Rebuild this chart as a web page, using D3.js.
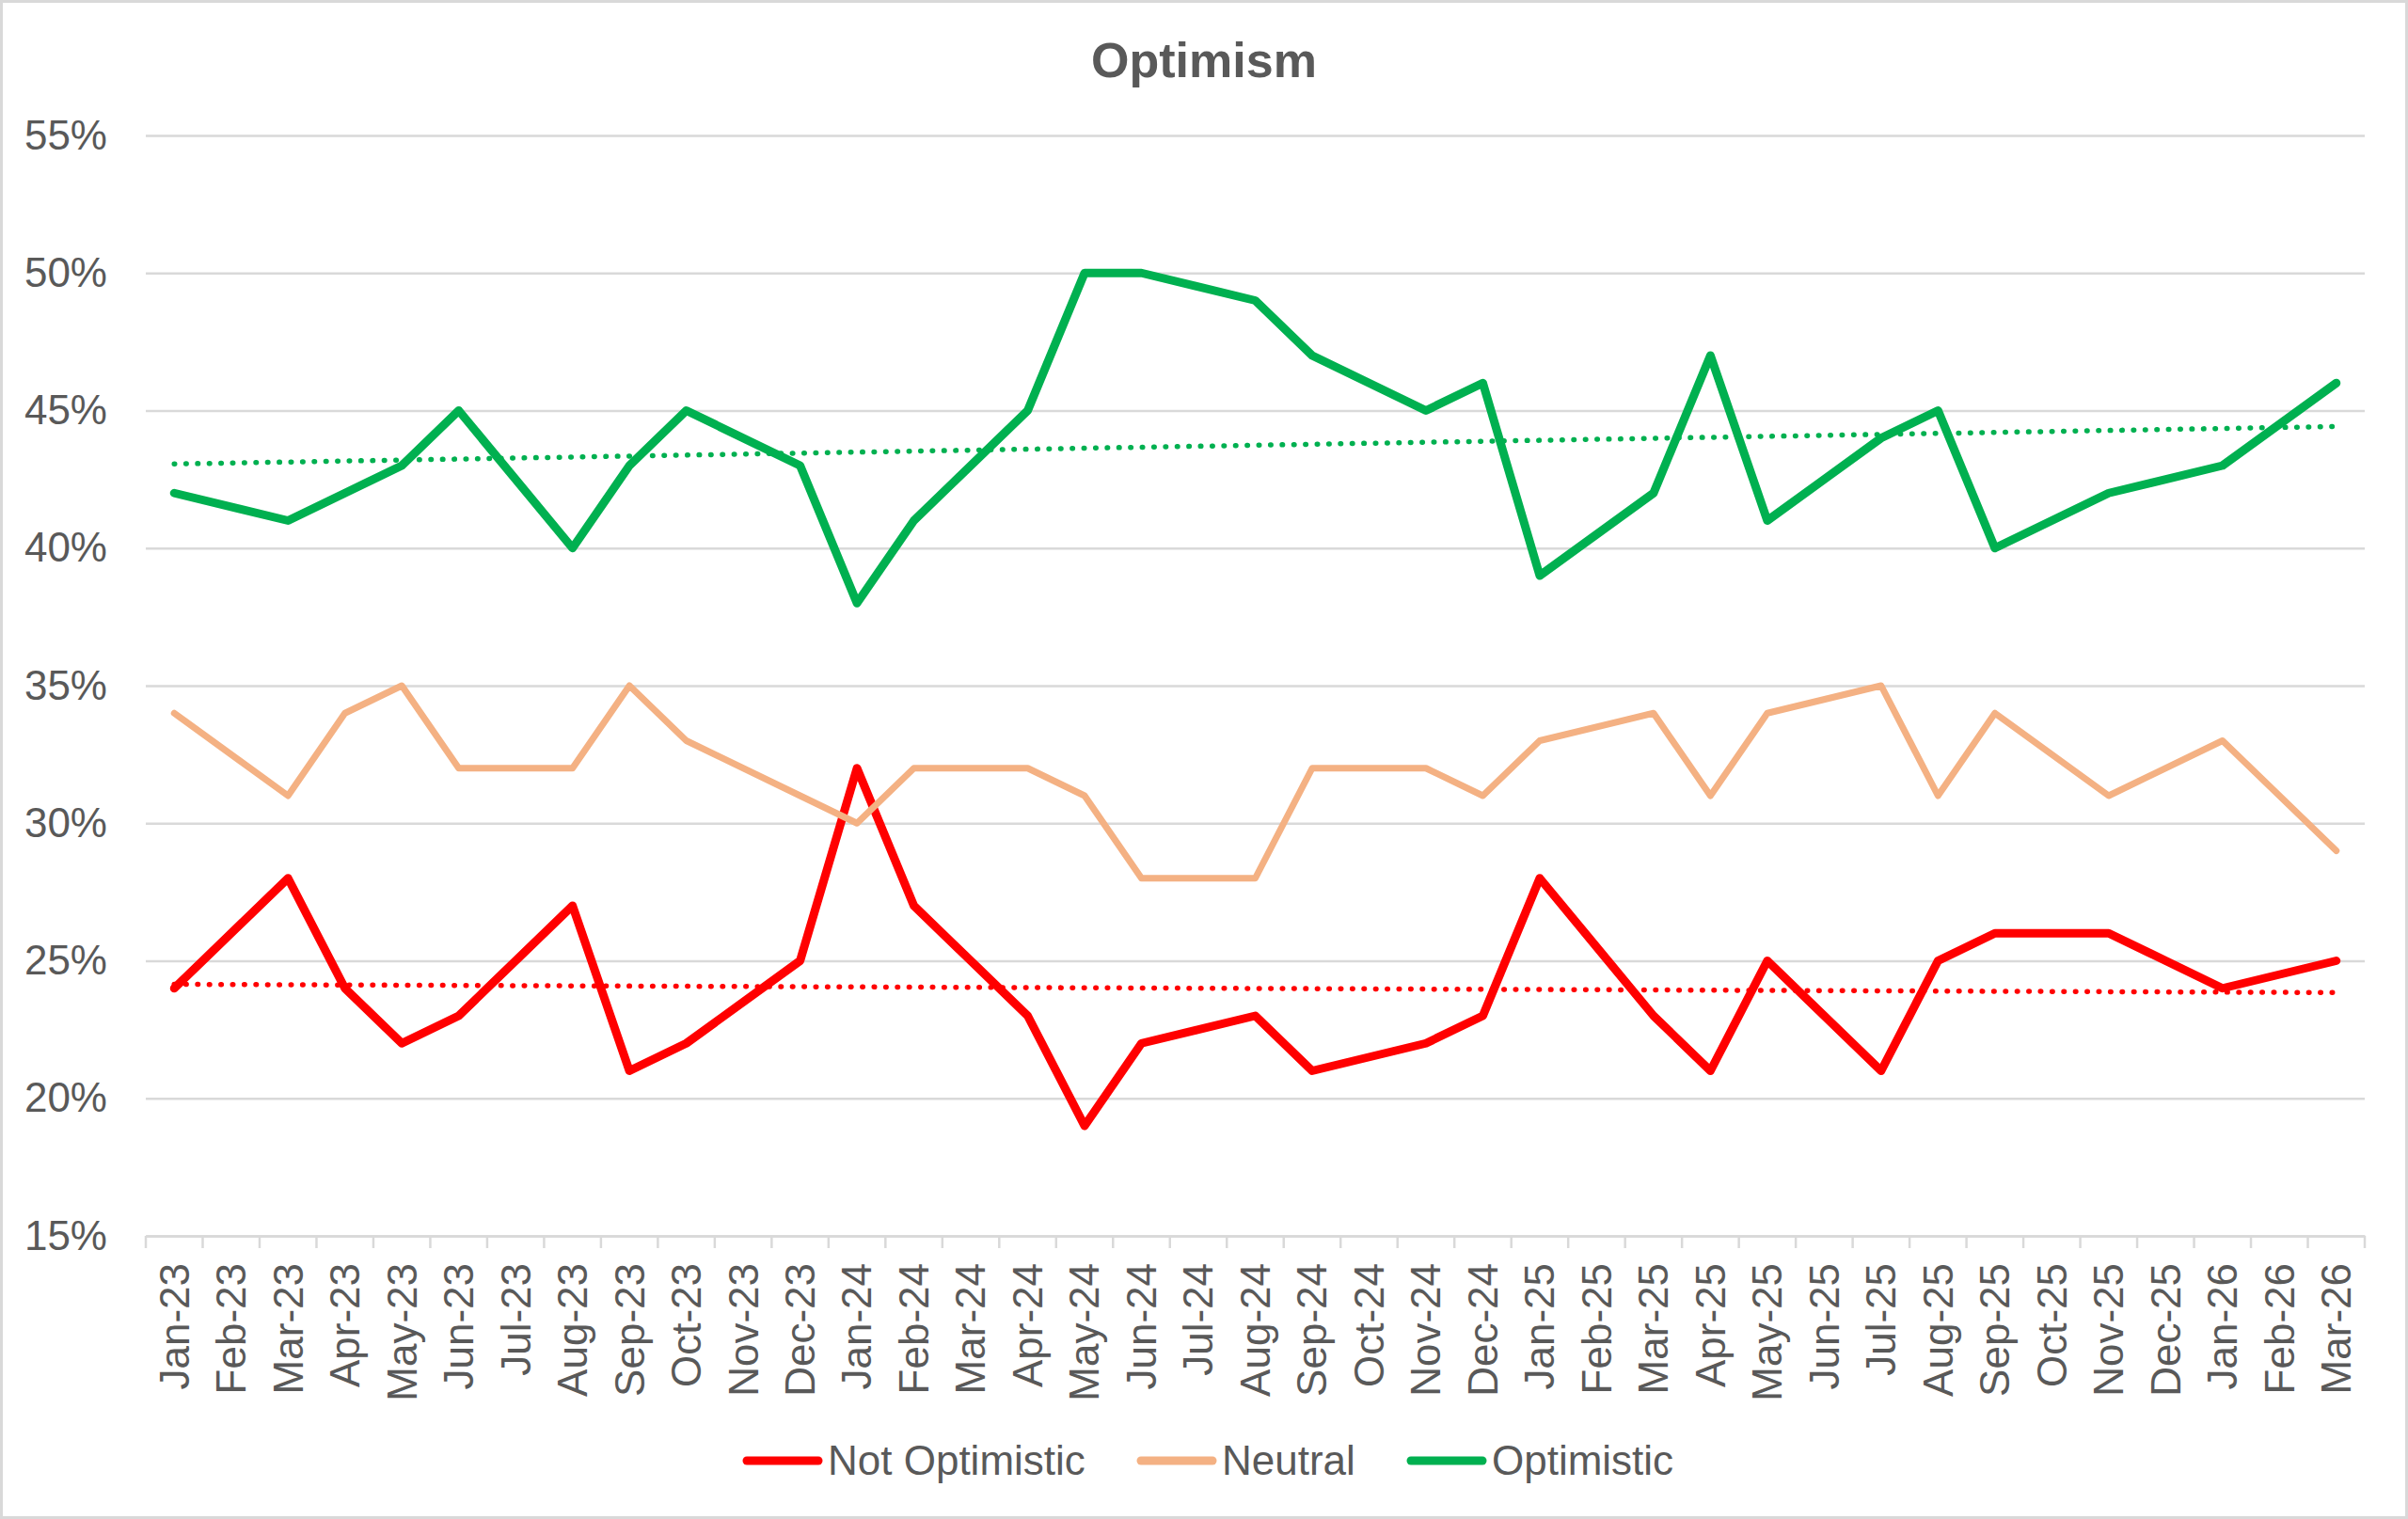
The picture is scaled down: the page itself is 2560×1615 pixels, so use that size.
<!DOCTYPE html>
<html>
<head>
<meta charset="utf-8">
<script src="https://cdn.jsdelivr.net/npm/d3@7"></script>
<style>
  body { margin: 0; background: #fff; }
  text { font-family: "Liberation Sans", Arial, sans-serif; fill: #595959; }
</style>
</head>
<body>
<svg id="chart" width="2560" height="1615"></svg>
<script>
// monthly survey, blanks = no survey that month
var months = [
  "Jan-23","Feb-23","Mar-23","Apr-23","May-23","Jun-23","Jul-23","Aug-23","Sep-23","Oct-23","Nov-23","Dec-23",
  "Jan-24","Feb-24","Mar-24","Apr-24","May-24","Jun-24","Jul-24","Aug-24","Sep-24","Oct-24","Nov-24","Dec-24",
  "Jan-25","Feb-25","Mar-25","Apr-25","May-25","Jun-25","Jul-25","Aug-25","Sep-25","Oct-25","Nov-25","Dec-25",
  "Jan-26","Feb-26","Mar-26"
];

var notOptimistic = [
  24, null, 28, 24, 22, 23, null, 27, 21, 22, null, 25,
  32, 27, null, 23, 19, 22, null, 23, 21, null, 22, 23,
  28, null, 23, 21, 25, null, 21, 25, 26, null, 26, null,
  24, null, 25
];
var neutral = [
  34, null, 31, 34, 35, 32, null, 32, 35, 33, null, 31,
  30, 32, null, 32, 31, 28, null, 28, 32, null, 32, 31,
  33, null, 34, 31, 34, null, 35, 31, 34, null, 31, null,
  33, null, 29
];
var optimistic = [
  42, null, 41, 42, 43, 45, null, 40, 43, 45, null, 43,
  38, 41, null, 45, 50, 50, null, 49, 47, null, 45, 46,
  39, null, 42, 47, 41, null, 44, 45, 40, null, 42, null,
  43, null, 46
];

var yTicks = [0.15, 0.20, 0.25, 0.30, 0.35, 0.40, 0.45, 0.50, 0.55];

var series = [
  { name: "Not Optimistic", values: notOptimistic, color: "#FF0000", width: 9, trend: true },
  { name: "Neutral",        values: neutral,       color: "#F4B183", width: 7, trend: false },
  { name: "Optimistic",     values: optimistic,    color: "#00B050", width: 9, trend: true }
];

var svg = d3.select("#chart");
var plotLeft = 155, plotRight = 2514, plotTop = 144, plotBottom = 1314;

// outer border
svg.append("rect")
  .attr("x", 1.5).attr("y", 1.5)
  .attr("width", 2557).attr("height", 1612)
  .attr("fill", "#fff")
  .attr("stroke", "#d9d9d9")
  .attr("stroke-width", 3);

var x = d3.scaleBand().domain(months).range([plotLeft, plotRight]).padding(0);
var y = d3.scaleLinear().domain([0.15, 0.55]).range([plotBottom, plotTop]);
var cx = m => x(m) + x.bandwidth() / 2;

// title
svg.append("text")
  .attr("x", 1280).attr("y", 82)
  .attr("text-anchor", "middle")
  .style("font-size", "52px")
  .style("font-weight", "bold")
  .text("Optimism");

// y grid + labels
var yAxis = svg.append("g")
  .attr("transform", `translate(${plotLeft},0)`)
  .call(d3.axisLeft(y)
    .tickValues(yTicks)
    .tickFormat(d3.format(".0%"))
    .tickSizeInner(-(plotRight - plotLeft))
    .tickSizeOuter(0)
    .tickPadding(41));
yAxis.select(".domain").remove();
yAxis.selectAll(".tick line").attr("stroke", "#d9d9d9").attr("stroke-width", 2.5);
yAxis.selectAll(".tick text").style("font-size", "44px").attr("fill", "#595959");

// x axis with tick marks between categories
var xAxis = svg.append("g")
  .attr("transform", `translate(0,${plotBottom})`)
  .call(d3.axisBottom(x).tickSize(0).tickSizeOuter(0));
xAxis.select(".domain").attr("stroke", "#d9d9d9").attr("stroke-width", 2.5);
xAxis.selectAll(".tick text")
  .attr("transform", "rotate(-90)")
  .attr("x", -29).attr("y", 0).attr("dy", "0.35em")
  .attr("text-anchor", "end")
  .attr("fill", "#595959")
  .style("font-size", "44px");

svg.append("g").selectAll("line")
  .data(d3.range(months.length + 1))
  .join("line")
  .attr("x1", i => plotLeft + i * x.bandwidth())
  .attr("x2", i => plotLeft + i * x.bandwidth())
  .attr("y1", plotBottom).attr("y2", plotBottom + 13)
  .attr("stroke", "#d9d9d9").attr("stroke-width", 2.5);

// series lines, blanks skipped and bridged like Excel
var line = d3.line()
  .x(d => cx(d.m))
  .y(d => y(d.v / 100));

series.forEach(s => {
  var pts = months.map((m, i) => ({ m: m, i: i, v: s.values[i] })).filter(d => d.v != null);

  svg.append("path")
    .datum(pts)
    .attr("fill", "none")
    .attr("stroke", s.color)
    .attr("stroke-width", s.width)
    .attr("stroke-linejoin", "round")
    .attr("stroke-linecap", "round")
    .attr("d", line);

  if (s.trend) {
    // least squares trend on category index
    var mx = d3.mean(pts, d => d.i), my = d3.mean(pts, d => d.v);
    var slope = d3.sum(pts, d => (d.i - mx) * (d.v - my)) / d3.sum(pts, d => (d.i - mx) * (d.i - mx));
    var icpt = my - slope * mx;
    var ends = [0, months.length - 1].map(i => ({ m: months[i], v: icpt + slope * i }));
    svg.append("path")
      .datum(ends)
      .attr("fill", "none")
      .attr("stroke", s.color)
      .attr("stroke-width", 5.5)
      .attr("stroke-linecap", "round")
      .attr("stroke-dasharray", "0.5 11.9")
      .attr("d", line);
  }
});

// legend
var legendX = [790, 1209, 1496];
var legend = svg.append("g").selectAll("g")
  .data(series)
  .join("g")
  .attr("transform", (d, i) => `translate(${legendX[i]},1553)`);
legend.append("line")
  .attr("x1", 4).attr("x2", 80)
  .attr("stroke", d => d.color)
  .attr("stroke-width", 9)
  .attr("stroke-linecap", "round");
legend.append("text")
  .attr("x", 90).attr("y", 0).attr("dy", "0.35em")
  .style("font-size", "44px")
  .text(d => d.name);
</script>
</body>
</html>
